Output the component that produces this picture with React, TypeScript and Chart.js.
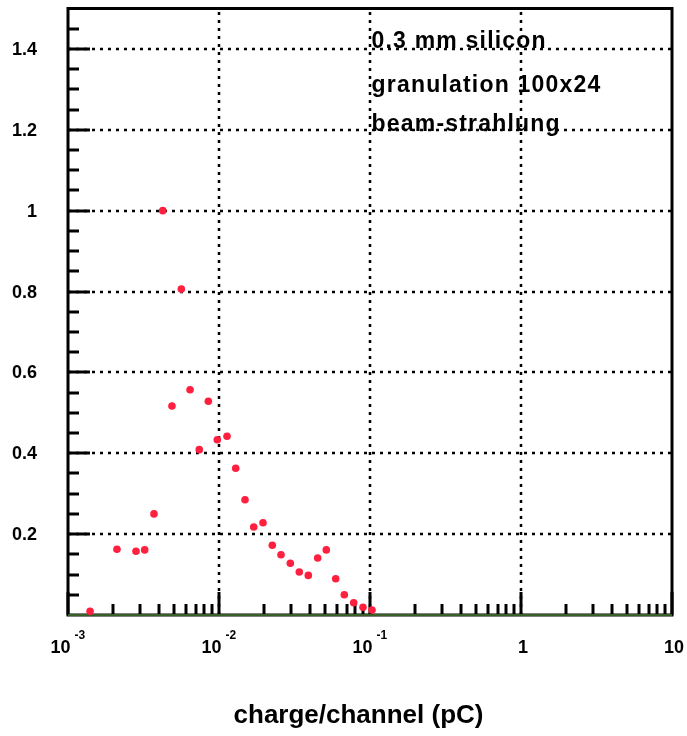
import { useEffect, useRef } from 'react';
import { Chart, registerables } from 'chart.js';

Chart.register(...registerables);

// ---- data ----
const chargeValues = [
  0.0014, 0.00211, 0.00282, 0.00322, 0.00371, 0.00424, 0.00488, 0.00563, 0.00643, 0.0074,
  0.0085, 0.00974, 0.0113, 0.0129, 0.01487, 0.01698, 0.01956, 0.02254, 0.02574, 0.02967,
  0.03402, 0.03903, 0.04503, 0.05135, 0.05926, 0.06757, 0.07798, 0.08987, 0.1031,
];
const rateValues = [
  0.009, 0.1625, 0.1576, 0.161, 0.25, 1.0, 0.517, 0.806, 0.557, 0.409,
  0.5285, 0.4336, 0.442, 0.3628, 0.285, 0.2177, 0.2283, 0.1724, 0.149, 0.128,
  0.1064, 0.098, 0.141, 0.161, 0.0898, 0.05, 0.0304, 0.019, 0.0124,
];

const xMin = 0.001;
const xMax = 10;
const yMin = 0;
const yMax = 1.5;

const xDecades = [0.001, 0.01, 0.1, 1, 10];
const xLabelBase = ['10', '10', '10', '1', '10'];
const xLabelExp = ['-3', '-2', '-1', '', ''];
const xMinorMultipliers = [2, 3, 4, 5, 6, 7, 8, 9];

const yMajorTicks = [0.2, 0.4, 0.6, 0.8, 1.0, 1.2, 1.4];
const yTickLabels = ['0.2', '0.4', '0.6', '0.8', '1', '1.2', '1.4'];
const yMinorTicks = [0.05, 0.1, 0.15, 0.25, 0.3, 0.35, 0.45, 0.5, 0.55, 0.65, 0.7, 0.75, 0.85, 0.9, 0.95, 1.05, 1.1, 1.15, 1.25, 1.3, 1.35, 1.45];

const annotationLines = ['0.3 mm silicon', 'granulation 100x24', 'beam-strahlung'];
const xTitle = 'charge/channel (pC)';

const FONT = '"Liberation Sans", Arial, Helvetica, sans-serif';

const framePlugin = {
  id: 'rootFrame',
  beforeDatasetsDraw(chart: any) {
    const { ctx, chartArea, scales } = chart;
    const { left, right, top, bottom } = chartArea;
    const x = scales.x;
    const y = scales.y;
    ctx.save();
    // dotted grid
    ctx.strokeStyle = '#000';
    ctx.lineWidth = 2.5;
    ctx.setLineDash([3, 5]);
    for (const v of xDecades.slice(1, -1)) {
      const px = Math.round(x.getPixelForValue(v));
      ctx.beginPath();
      ctx.moveTo(px, bottom);
      ctx.lineTo(px, top);
      ctx.stroke();
    }
    for (const v of yMajorTicks) {
      const py = Math.round(y.getPixelForValue(v));
      ctx.beginPath();
      ctx.moveTo(left, py);
      ctx.lineTo(right, py);
      ctx.stroke();
    }
    ctx.setLineDash([]);
    // ticks
    ctx.lineWidth = 3;
    for (let i = 0; i < xDecades.length; i++) {
      const d = xDecades[i];
      const px = Math.round(x.getPixelForValue(d));
      ctx.beginPath();
      ctx.moveTo(px, bottom);
      ctx.lineTo(px, bottom - 23);
      ctx.stroke();
      if (i < xDecades.length - 1) {
        for (const m of xMinorMultipliers) {
          const mx = Math.round(x.getPixelForValue(d * m));
          ctx.beginPath();
          ctx.moveTo(mx, bottom);
          ctx.lineTo(mx, bottom - 11);
          ctx.stroke();
        }
      }
    }
    for (const v of yMajorTicks) {
      const py = Math.round(y.getPixelForValue(v));
      ctx.beginPath();
      ctx.moveTo(left, py);
      ctx.lineTo(left + 22, py);
      ctx.stroke();
    }
    for (const v of yMinorTicks) {
      const py = Math.round(y.getPixelForValue(v));
      ctx.beginPath();
      ctx.moveTo(left, py);
      ctx.lineTo(left + 11, py);
      ctx.stroke();
    }
    // frame
    ctx.lineWidth = 3;
    ctx.strokeRect(left, top, right - left, bottom - top);
    ctx.restore();
  },
  afterDraw(chart: any) {
    const { ctx, chartArea, scales } = chart;
    const { top } = chartArea;
    const x = scales.x;
    const y = scales.y;
    ctx.save();
    ctx.fillStyle = '#000';
    // y labels
    ctx.font = `bold 18px ${FONT}`;
    ctx.textAlign = 'right';
    ctx.textBaseline = 'middle';
    yMajorTicks.forEach((v, i) => {
      ctx.fillText(yTickLabels[i], 37, y.getPixelForValue(v) + 1);
    });
    // x labels
    ctx.textBaseline = 'alphabetic';
    xDecades.forEach((d, i) => {
      const px = x.getPixelForValue(d);
      if (xLabelExp[i]) {
        ctx.font = `bold 18px ${FONT}`;
        ctx.textAlign = 'right';
        ctx.fillText(xLabelBase[i], px + 2.5, 653);
        ctx.font = `bold 12px ${FONT}`;
        ctx.textAlign = 'left';
        ctx.fillText(xLabelExp[i], px + 6.5, 639);
      } else {
        ctx.font = `bold 18px ${FONT}`;
        ctx.textAlign = 'center';
        ctx.fillText(xLabelBase[i], px + 2, 653);
      }
    });
    // title
    ctx.font = `bold 26px ${FONT}`;
    ctx.textAlign = 'center';
    ctx.fillText(xTitle, 358.5, 723);
    // annotation
    ctx.font = `bold 23px ${FONT}`;
    ctx.textAlign = 'left';
    (ctx as any).letterSpacing = '1.2px';
    const ax = x.getPixelForValue(0.1) + 1.5;
    const baselines = [39, 83, 122];
    annotationLines.forEach((t, i) => {
      ctx.fillText(t, ax, top + baselines[i]);
    });
    ctx.restore();
  },
};

export default function App() {
  const canvasRef = useRef<HTMLCanvasElement | null>(null);

  useEffect(() => {
    const canvas = canvasRef.current;
    if (!canvas) return;
    const chart = new Chart(canvas, {
      type: 'scatter',
      data: {
        datasets: [
          {
            type: 'scatter',
            data: chargeValues.map((c, i) => ({ x: c, y: rateValues[i] })),
            backgroundColor: '#ff1f3f',
            borderWidth: 0,
            pointRadius: 3.8,
            pointHoverRadius: 3.8,
            clip: false as any,
            order: 1,
          },
          {
            type: 'line',
            data: [
              { x: xMin, y: yMin },
              { x: xMax, y: yMin },
            ],
            borderColor: '#4a7f33',
            borderWidth: 1.5,
            pointRadius: 0,
            clip: false as any,
            order: 2,
          } as any,
        ],
      },
      options: {
        animation: false,
        responsive: false,
        devicePixelRatio: 1,
        layout: { padding: { left: 68, right: 15, top: 8.5, bottom: 121 } },
        plugins: { legend: { display: false }, tooltip: { enabled: false } },
        events: [],
        scales: {
          x: { type: 'logarithmic', min: xMin, max: xMax, display: false },
          y: { type: 'linear', min: yMin, max: yMax, display: false },
        },
      },
      plugins: [framePlugin],
    });
    return () => chart.destroy();
  }, []);

  return (
    <div style={{ position: 'absolute', left: 0, top: 0, width: 687, height: 736, background: '#fff' }}>
      <canvas ref={canvasRef} width={687} height={736} style={{ display: 'block' }} />
    </div>
  );
}
